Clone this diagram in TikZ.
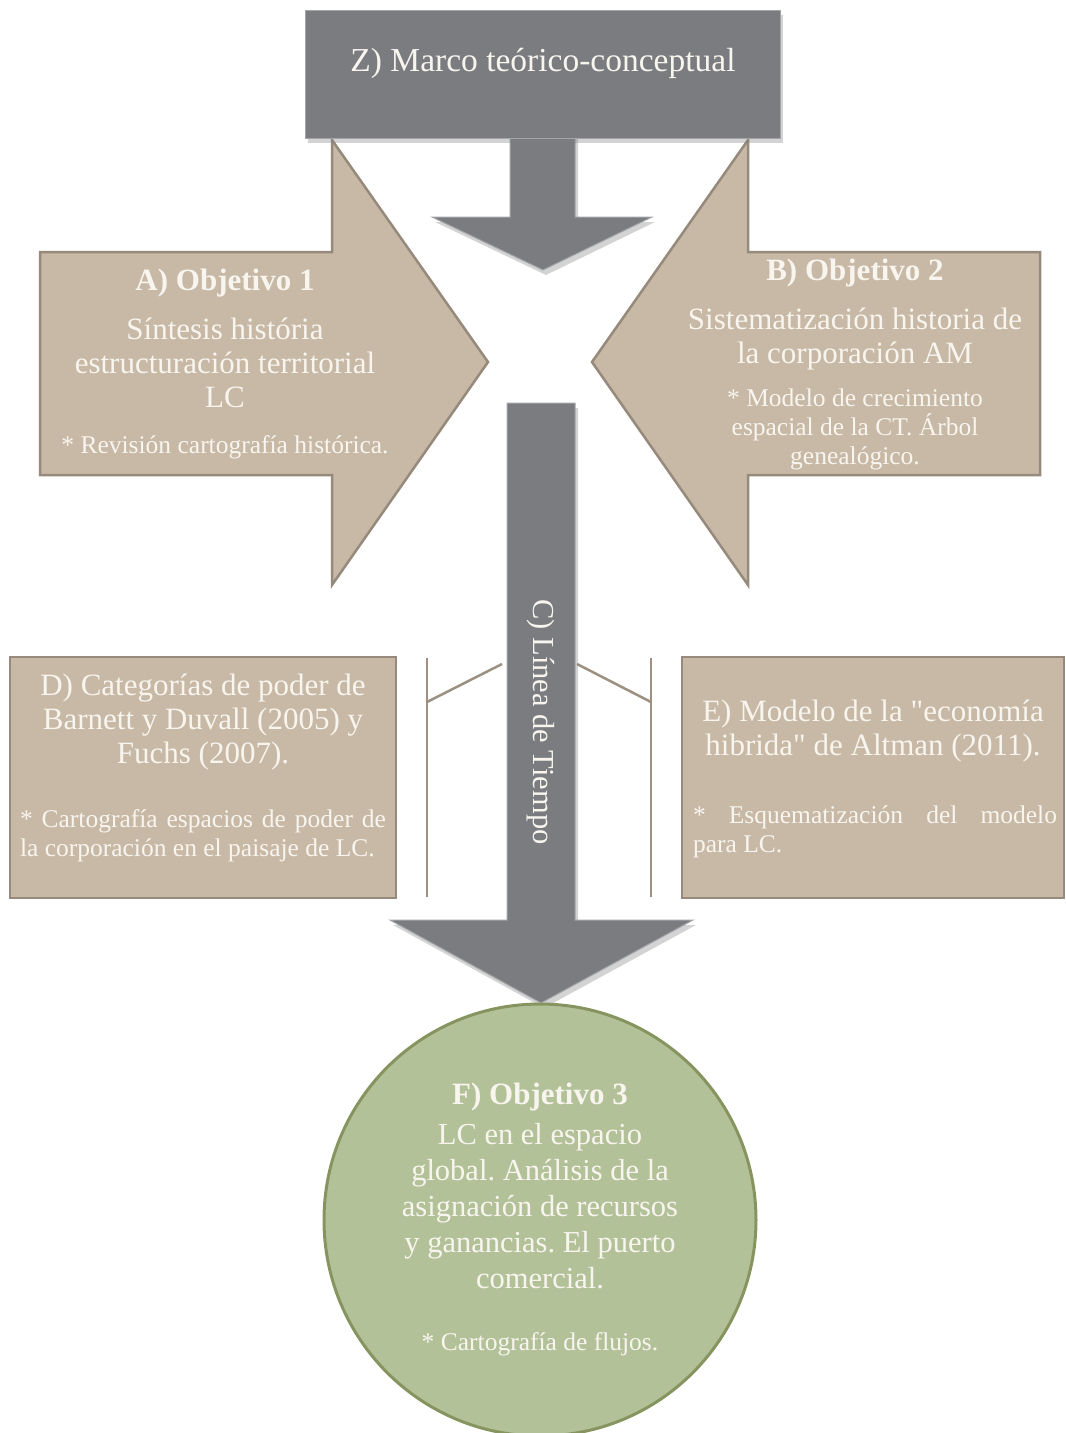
\documentclass[tikz,border=0pt]{standalone}
\usepackage{fontspec}
\setmainfont{Liberation Serif}[Ligatures=TeXOff]
\usetikzlibrary{calc}
\usetikzlibrary{positioning}
\usetikzlibrary{shadows}

\definecolor{slate}{HTML}{7B7C80}
\definecolor{slateedge}{HTML}{A4A5A9}
\definecolor{sand}{HTML}{C8B9A6}
\definecolor{sandedge}{HTML}{958A7B}
\definecolor{sage}{HTML}{B3C199}
\definecolor{sageedge}{HTML}{86955F}
\definecolor{ink}{HTML}{F8F5EF}
\definecolor{brace}{HTML}{9C9080}

\newcommand{\bigtxt}{\fontsize{31}{34}\selectfont}
\newcommand{\smalltxt}{\fontsize{25.5}{29}\selectfont}

\begin{document}
\frenchspacing
\begin{tikzpicture}[
  x=1pt, y=-1pt,
  slab/.style = {fill=slate, draw=slateedge, line width=1pt,
    drop shadow={shadow xshift=3pt, shadow yshift=-5pt, opacity=.35}},
  tanshape/.style = {fill=sand, draw=sandedge, line width=2.5pt, line join=miter},
  boxnote/.style = {tanshape, rectangle, inner sep=0pt},
  txt/.style = {text=ink, align=center, inner sep=0pt},
  bracket/.style = {draw=brace, line width=2.5pt}
  ]
  \useasboundingbox (0,0) rectangle (1066,1433);

  % objetivos 1 y 2
  \draw[tanshape] (40,252) -- (332,252) -- (332,140) -- (488,362) -- (332,585) -- (332,475) -- (40,475) -- cycle;
  \draw[tanshape] (1040,252) -- (748,252) -- (748,140) -- (592,362) -- (748,585) -- (748,475) -- (1040,475) -- cycle;

  \node[txt, font=\bigtxt\bfseries] (obj1) at (225,283) {A) Objetivo 1};
  \node[txt, font=\bigtxt] (obj1txt) at (225,363) {Síntesis história\\estructuración territorial\\LC};
  \node[txt, font=\smalltxt] (obj1note) at (225,447) {* Revisión cartografía histórica.};

  \node[txt, font=\bigtxt\bfseries] (obj2) at (855,273) {B) Objetivo 2};
  \node[txt, font=\bigtxt] (obj2txt) at (855,339) {Sistematización historia de\\la corporación AM};
  \node[txt, font=\smalltxt] (obj2note) at (855,429) {* Modelo de crecimiento\\espacial de la CT. Árbol\\genealógico.};

  % marco
  \draw[slab] (510,130) -- (575,130) -- (575,217) -- (652,217) -- (543,270) -- (432,217) -- (510,217) -- cycle;
  \node[slab, rectangle, minimum width=475pt, minimum height=128pt] (marco) at (542.5,74) {};
  \node[txt, font=\fontsize{33.5}{38}\selectfont] (marcotxt) at (543,63) {Z) Marco teórico-conceptual};

  % linea de tiempo
  \draw[slab] (507,403) -- (575,403) -- (575,920) -- (693,920) -- (541,1003) -- (390,920) -- (507,920) -- cycle;
  \node[txt, rotate=-90, font=\fontsize{30.5}{34}\selectfont] (tiempo) at (541,722) {C) Línea de Tiempo};

  % categorias y modelo
  \node[boxnote, minimum width=386pt, minimum height=241pt] (poder) at (203,777.5) {};
  \node[txt, font=\bigtxt] (podertxt) at (203,722) {D) Categorías de poder de\\Barnett y Duvall (2005) y\\Fuchs (2007).};
  \node[txt, font=\smalltxt, align=left] (podernote) at (203,836)
    {\makebox[366pt][s]{* Cartografía espacios de poder de}\\la corporación en el paisaje de LC.};

  \node[boxnote, minimum width=382pt, minimum height=241pt] (hibrida) at (873,777.5) {};
  \node[txt, font=\bigtxt] (hibridatxt) at (873,731) {E) Modelo de la "economía\\hibrida" de Altman (2011).};
  \node[txt, font=\smalltxt, align=left] (hibridanote) at (875,832)
    {\makebox[364pt][s]{* Esquematización del modelo}\\para LC.};

  \coordinate (lb top) at (427,658);
  \coordinate (lb bot) at (427,897);
  \coordinate (lb knee) at (427,702);
  \coordinate (lb end) at (502,664);
  \coordinate (rb top) at (651,658);
  \coordinate (rb bot) at (651,897);
  \coordinate (rb knee) at (651,702);
  \coordinate (rb end) at (577,664);
  \draw[bracket] (lb top) -- (lb bot);
  \draw[bracket] (lb knee) -- (lb end);
  \draw[bracket] (rb top) -- (rb bot);
  \draw[bracket] (rb knee) -- (rb end);

  % objetivo 3
  \node[circle, fill=sage, draw=sageedge, line width=3pt, minimum size=432pt, inner sep=0pt] (obj3) at (540,1220) {};
  \node[txt, font=\bigtxt\bfseries] (obj3head) at (540,1097) {F) Objetivo 3};
  \node[txt, font=\fontsize{30.5}{36}\selectfont] (obj3txt) at (540,1206)
    {LC en el espacio\\global. Análisis de la\\asignación de recursos\\y ganancias. El puerto\\comercial.};
  \node[txt, font=\smalltxt] (obj3note) at (540,1344) {* Cartografía de flujos.};
\end{tikzpicture}
\end{document}
